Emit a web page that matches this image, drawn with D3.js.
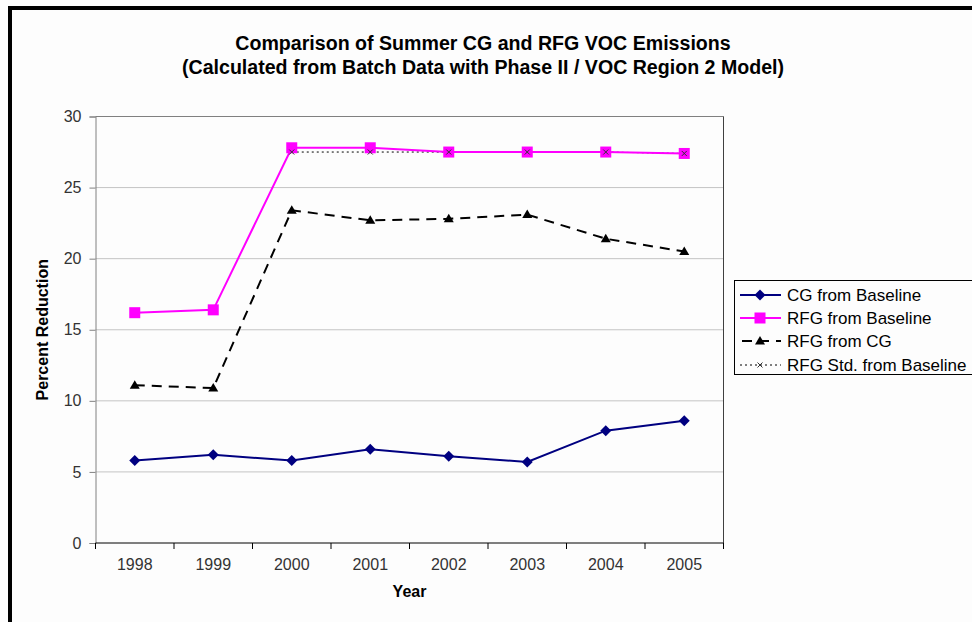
<!DOCTYPE html>
<html><head><meta charset="utf-8">
<script src="https://cdn.jsdelivr.net/npm/d3@7"></script>
<style>body{margin:0;background:#fdfdfd;}svg{display:block;font-family:Arial,"Liberation Sans",sans-serif;}</style>
</head><body>
<script>
const years = ["1998","1999","2000","2001","2002","2003","2004","2005"];
const cgFromBaseline = [5.8, 6.2, 5.8, 6.6, 6.1, 5.7, 7.9, 8.6];
const rfgFromBaseline = [16.2, 16.4, 27.8, 27.8, 27.5, 27.5, 27.5, 27.4];
const rfgFromCG = [11.1, 10.9, 23.4, 22.7, 22.8, 23.1, 21.4, 20.5];
const rfgStdFromBaseline = [null, null, 27.5, 27.5, 27.5, 27.5, 27.5, 27.4];
const yTicks = [0, 5, 10, 15, 20, 25, 30];
const seriesNames = ["CG from Baseline", "RFG from Baseline", "RFG from CG", "RFG Std. from Baseline"];

const W = 972, H = 622;
const svg = d3.select("body").append("svg").attr("width", W).attr("height", H);
svg.append("rect").attr("width", W).attr("height", H).attr("fill", "#fdfdfd");
// frame
svg.append("rect").attr("x", 8).attr("y", 6).attr("width", W - 8).attr("height", 4).attr("fill", "#000");
svg.append("rect").attr("x", 8).attr("y", 6).attr("width", 4).attr("height", H - 6).attr("fill", "#000");

const L = 95.5, R = 723.5, T = 116.5, B = 543;
const x = d3.scaleBand().domain(years).range([L, R]).padding(0);
const y = d3.scaleLinear().domain([0, 30]).range([B, T]);
const cx = d => x(d) + x.bandwidth() / 2;

// gridlines
svg.append("g").selectAll("line").data(yTicks.filter(t => t > 0)).join("line")
  .attr("x1", L).attr("x2", R).attr("y1", d => y(d)).attr("y2", d => y(d))
  .attr("stroke", "#c4c4c4").attr("stroke-width", 1);
// plot border top/right
svg.append("line").attr("x1", L).attr("x2", R).attr("y1", T).attr("y2", T).attr("stroke", "#808080");
svg.append("line").attr("x1", R).attr("x2", R).attr("y1", T).attr("y2", B).attr("stroke", "#404040");

// y axis
const yAxis = d3.axisLeft(y).tickValues(yTicks).tickSize(6).tickPadding(8);
const gy = svg.append("g").attr("transform", `translate(${L},0)`).call(yAxis);
gy.select(".domain").attr("stroke", "#808080");
gy.selectAll(".tick line").attr("stroke", "#808080");
gy.selectAll("text").attr("font-size", 16).attr("fill", "#333").attr("font-family", "Arial, 'Liberation Sans', sans-serif");

// x axis
const xAxis = d3.axisBottom(x).tickSize(0).tickPadding(16);
const gx = svg.append("g").attr("transform", `translate(0,${B})`).call(xAxis);
gx.select(".domain").attr("stroke", "#000").attr("d", `M${L},0H${R}`);
gx.selectAll("text").attr("font-size", 16).attr("fill", "#333").attr("font-family", "Arial, 'Liberation Sans', sans-serif");
const xb = [L].concat(years.map(d => x(d) + x.bandwidth()));
svg.append("g").selectAll("line").data(xb).join("line")
  .attr("x1", d => d).attr("x2", d => d).attr("y1", B).attr("y2", B + 6).attr("stroke", "#000");

// lines
const lineGen = d3.line().defined(d => d.v != null).x(d => cx(d.k)).y(d => y(d.v));
const mk = arr => years.map((k, i) => ({ k, v: arr[i] }));

function diamond(g, px, py, s, fill) {
  g.append("path").attr("d", `M${px},${py - s}L${px + s},${py}L${px},${py + s}L${px - s},${py}Z`).attr("fill", fill);
}
function square(g, px, py, s, fill) {
  g.append("rect").attr("x", px - s).attr("y", py - s).attr("width", 2 * s).attr("height", 2 * s).attr("fill", fill);
}
function tri(g, px, py, s, fill) {
  g.append("path").attr("d", `M${px},${py - s}L${px + s},${py + s * 0.7}L${px - s},${py + s * 0.7}Z`).attr("fill", fill);
}
function cross(g, px, py, s, col) {
  g.append("path").attr("d", `M${px - s},${py - s}L${px + s},${py + s}M${px - s},${py + s}L${px + s},${py - s}`).attr("stroke", col).attr("stroke-width", 1);
}

const plot = svg.append("g");
// RFG Std dotted
plot.append("path").attr("d", lineGen(mk(rfgStdFromBaseline))).attr("fill", "none")
  .attr("stroke", "#000").attr("stroke-width", 1).attr("stroke-dasharray", "2,3");
// RFG from CG dashed
plot.append("path").attr("d", lineGen(mk(rfgFromCG))).attr("fill", "none")
  .attr("stroke", "#000").attr("stroke-width", 2).attr("stroke-dasharray", "10,7");
mk(rfgFromCG).forEach(d => tri(plot, cx(d.k), y(d.v), 5, "#000"));
// RFG from baseline
plot.append("path").attr("d", lineGen(mk(rfgFromBaseline))).attr("fill", "none")
  .attr("stroke", "#ff00ff").attr("stroke-width", 2);
mk(rfgFromBaseline).forEach(d => square(plot, cx(d.k), y(d.v), 5.5, "#ff00ff"));
mk(rfgStdFromBaseline).filter(d => d.v != null).forEach(d => cross(plot, cx(d.k), y(d.v), 2.5, "#333"));
// CG from baseline
plot.append("path").attr("d", lineGen(mk(cgFromBaseline))).attr("fill", "none")
  .attr("stroke", "#000080").attr("stroke-width", 2);
mk(cgFromBaseline).forEach(d => diamond(plot, cx(d.k), y(d.v), 5.5, "#000080"));

// titles
const title = svg.append("text").attr("x", 483).attr("text-anchor", "middle")
  .attr("font-weight", "bold").attr("font-size", 19.6).attr("fill", "#000");
title.append("tspan").attr("x", 483).attr("y", 50).text("Comparison of Summer CG and RFG VOC Emissions");
title.append("tspan").attr("x", 483).attr("y", 74).text("(Calculated from Batch Data with Phase II / VOC Region 2 Model)");

svg.append("text").attr("x", (L + R) / 2).attr("y", 597).attr("text-anchor", "middle")
  .attr("font-weight", "bold").attr("font-size", 16).text("Year");
svg.append("text").attr("transform", `translate(48,${(T + B) / 2}) rotate(-90)`).attr("text-anchor", "middle")
  .attr("font-weight", "bold").attr("font-size", 16).text("Percent Reduction");

// legend
const lg = svg.append("g");
lg.append("rect").attr("x", 734.5).attr("y", 280.5).attr("width", 250).attr("height", 94)
  .attr("fill", "#fdfdfd").attr("stroke", "#000").attr("stroke-width", 1);
const rows = [295, 318, 341, 365];
const lx1 = 740, lx2 = 781, lm = 760;
seriesNames.forEach((name, i) => {
  const ry = rows[i];
  const ln = lg.append("line").attr("x1", lx1).attr("x2", lx2).attr("y1", ry).attr("y2", ry).attr("stroke", "#000");
  if (i === 0) { ln.attr("stroke", "#000080").attr("stroke-width", 2); diamond(lg, lm, ry, 5.5, "#000080"); }
  if (i === 1) { ln.attr("stroke", "#ff00ff").attr("stroke-width", 2); square(lg, lm, ry, 5.5, "#ff00ff"); }
  if (i === 2) { ln.attr("stroke-width", 2).attr("stroke-dasharray", "10,7").attr("x1", lx1 + 2); tri(lg, lm, ry, 5, "#000"); }
  if (i === 3) { ln.attr("stroke-dasharray", "2,3"); cross(lg, lm, ry, 2.5, "#333"); }
  lg.append("text").attr("x", 787).attr("y", ry).attr("dy", "0.35em").attr("font-size", 17).attr("fill", "#000").text(name);
});
</script>
</body></html>
